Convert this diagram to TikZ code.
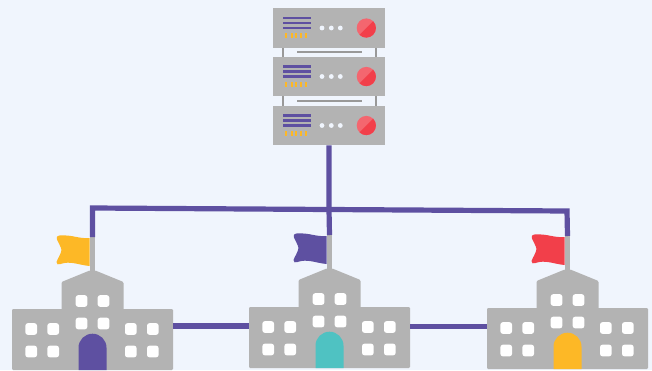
\documentclass[tikz,border=0pt]{standalone}
\definecolor{pagebg}{HTML}{F0F5FD}
\definecolor{stone}{HTML}{B3B3B3}
\definecolor{rail}{HTML}{999999}
\definecolor{indigo}{HTML}{5E50A1}
\definecolor{amber}{HTML}{FDB826}
\definecolor{signal}{HTML}{F23F4A}
\definecolor{signallight}{HTML}{F4666F}
\definecolor{teal}{HTML}{4FC2C2}
\tikzset{
    link/.style={draw=indigo,line width=5.2pt},
    unitbox/.style={fill=stone,minimum width=112pt,minimum height=39.5pt,inner sep=0pt,outer sep=0pt},
    wingbox/.style={fill=stone,rounded corners=1.2pt,minimum width=161pt,minimum height=61pt,inner sep=0pt,outer sep=0pt},
    pane/.style={fill=white,rounded corners=2.4pt}
}
% one shelf of the rack: name, middle y
\newcommand{\rackunit}[2]{
    \node[unitbox] (#1) at (329,#2) {};
    \begin{scope}[shift={(329,#2)}]
        \foreach \y in {-10,-5,0}
            \fill[indigo] (-46,\y-1.1) rectangle (-18,\y+1.1);
        \foreach \x in {-43,-37,-33,-28,-23}
            \fill[amber] (\x-1.1,5) rectangle (\x+1.1,10);
        \foreach \x in {-7,2.3,11.3}
            \fill[pagebg] (\x,0) circle (2.4pt);
        \fill[signallight] (37.3,0) circle (9.6pt);
        \fill[signal] (37.3,0) ++(45:9.6pt) arc (45:-135:9.6pt) -- cycle;
    \end{scope}
}
% name, position of the middle of the wing top, flag colour, door colour
\newcommand{\school}[4]{
    \coordinate (#1pole) at ($(#2)+(0,-72)$);
    \node[wingbox] (#1) at ($(#2)+(0,30.5)$) {};
    \begin{scope}[shift={(#2)}]
        \fill[stone,rounded corners=1.2pt] (-31,2) -- (-31,-27) -- (-2.8,-38.5) -- (2.8,-38.5) -- (31,-27) -- (31,2) -- cycle;
        \fill[stone] (-2.8,-72) rectangle (2.8,-37);
        \fill[#3] (-2.8,-71) .. controls (-14,-70) and (-20,-74.5) .. (-33,-73.5)
            .. controls (-36,-73) and (-36.5,-71) .. (-35.5,-69.5)
            .. controls (-34,-66) and (-31.5,-62) .. (-31,-59)
            .. controls (-31.5,-55) and (-35,-50) .. (-36,-47)
            .. controls (-36.5,-44.5) and (-34,-44) .. (-32,-45)
            .. controls (-22,-48.5) and (-14,-44) .. (-2.8,-43) -- cycle;
        \foreach \x in {-11,11}
            \foreach \y in {-8,14.5}
                \fill[pane] (\x-5.8,\y-5.8) rectangle (\x+5.8,\y+5.8);
        \foreach \x in {-61.3,-39.3,38.3,60.3}
            \foreach \y in {20,42.5}
                \fill[pane] (\x-5.8,\y-5.8) rectangle (\x+5.8,\y+5.8);
        \fill[#4] (-14,61) -- (-14,38.7) arc (180:0:14pt) -- (14,61) -- cycle;
    \end{scope}
}
\usetikzlibrary{calc}
\begin{document}
\begin{tikzpicture}[x=1pt,y=-1pt]
    \useasboundingbox (0,0) rectangle (652,370);
    \fill[pagebg] (0,0) rectangle (652,370);
    % rack
    \fill[rail] (282,47) rectangle (284,107);
    \fill[rail] (375,47) rectangle (377,107);
    \fill[rail] (297,51) rectangle (362,53);
    \fill[rail] (297,100) rectangle (362,102);
    \rackunit{unitA}{28}
    \rackunit{unitB}{76.5}
    \rackunit{unitC}{125.5}
    % three schools
    \school{schoolA}{92.5,309}{amber}{indigo}
    \school{schoolB}{329.5,307}{indigo}{teal}
    \school{schoolC}{567.5,308}{signal}{amber}
    % wires
    \coordinate (busA) at (92.5,208);
    \coordinate (busB) at (329,209.5);
    \coordinate (busC) at (567,211);
    \coordinate (wireL) at (0,326);
    \coordinate (wireR) at (0,326.6);
    \draw[link] (schoolApole) -- (busA) -- (busC) -- (schoolCpole);
    \draw[link] (unitC.south) -- (busB) -- (schoolBpole);
    \draw[link] (schoolA.east |- wireL) -- (schoolB.west |- wireL);
    \draw[link] (schoolB.east |- wireR) -- (schoolC.west |- wireR);
\end{tikzpicture}
\end{document}
